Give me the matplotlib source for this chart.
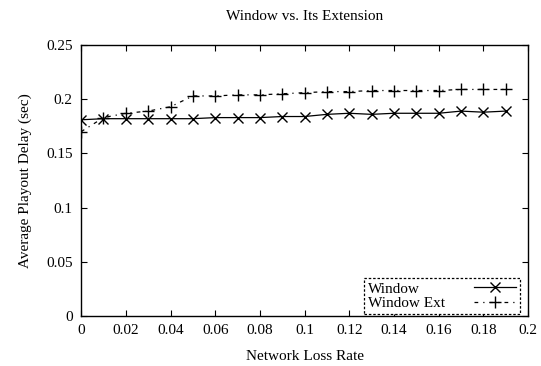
import numpy as np
from matplotlib import pyplot as plt

plt.rcParams['font.family'] = ['Liberation Serif', 'DejaVu Serif']

loss_rate = [0.00, 0.01, 0.02, 0.03, 0.04, 0.05, 0.06, 0.07, 0.08, 0.09,
             0.10, 0.11, 0.12, 0.13, 0.14, 0.15, 0.16, 0.17, 0.18, 0.19]
window = [0.181, 0.182, 0.182, 0.182, 0.182, 0.182, 0.183, 0.183, 0.183, 0.184,
          0.184, 0.186, 0.187, 0.186, 0.187, 0.187, 0.187, 0.189, 0.188, 0.189]
window_ext = [0.170, 0.183, 0.187, 0.189, 0.193, 0.203, 0.203, 0.204, 0.204, 0.205,
              0.206, 0.207, 0.207, 0.208, 0.208, 0.208, 0.208, 0.209, 0.209, 0.209]

fig = plt.figure(figsize=(5.41, 3.66), dpi=100)
ax = fig.add_axes([0.150, 0.137, 0.826, 0.740])

ax.plot(loss_rate, window, color="black", linewidth=0.9, marker="x",
        markersize=7, markeredgewidth=1.0, label="Window")
ax.plot(loss_rate, window_ext, color="black", linewidth=0.9, marker="+",
        markersize=8, markeredgewidth=1.0, dashes=(3, 4, 1, 4), label="Window Ext")

ax.set_xlim([0, 0.2])
ax.set_ylim([0, 0.25])
ax.set_xticks(np.arange(0, 0.2001, 0.02))
ax.set_xticklabels(["0", "0.02", "0.04", "0.06", "0.08", "0.1", "0.12",
                    "0.14", "0.16", "0.18", "0.2"])
ax.set_yticks(np.arange(0, 0.2501, 0.05))
ax.set_yticklabels(["0", "0.05", "0.1", "0.15", "0.2", "0.25"])
ax.tick_params(direction="in", top=True, right=True, length=4, width=0.8,
               labelsize=11, pad=6)
for s in ax.spines.values():
    s.set_linewidth(1.0)

ax.set_title("Window vs. Its Extension", fontsize=11, pad=18)
ax.set_xlabel("Network Loss Rate", fontsize=11, labelpad=9)
ax.set_ylabel("Average Playout Delay (sec)", fontsize=11, labelpad=10)

leg = ax.legend(loc="lower right", bbox_to_anchor=(1 - 8 / 447, 2 / 271),
                markerfirst=False, fontsize=11, fancybox=False, framealpha=1,
                edgecolor="black", borderpad=0.25, labelspacing=0.05,
                handlelength=2.75, handletextpad=1.9, borderaxespad=0)
leg.get_frame().set_linestyle((0, (2, 1.5)))
leg.get_frame().set_linewidth(0.9)

# gnuplot style: labels left, samples right
fig.canvas.draw()
r = fig.canvas.get_renderer()
col = leg._legend_handle_box.get_children()[0]
widths = [t.get_window_extent(r).width for t in leg.get_texts()]
wmax = max(widths)
for item, w in zip(col.get_children(), widths):
    item.sep += (wmax - w) * 72 / fig.dpi

plt.savefig("out.png")
